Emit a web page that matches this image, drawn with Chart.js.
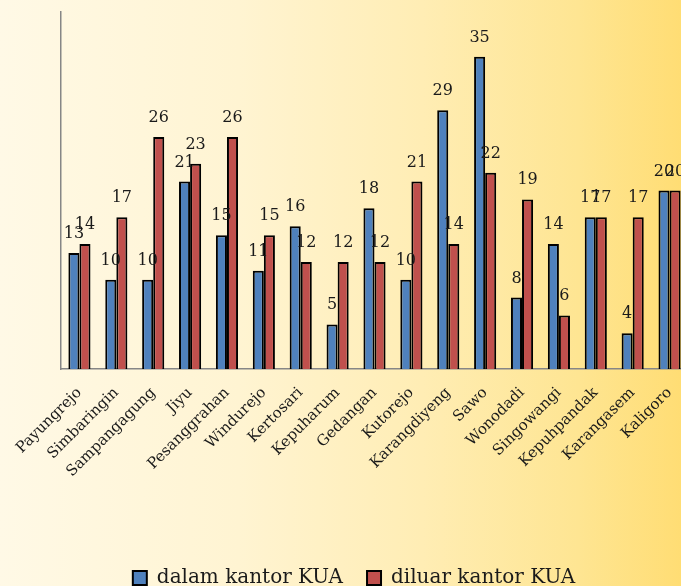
<!DOCTYPE html>
<html>
<head>
<meta charset="utf-8">
<script src="https://cdn.jsdelivr.net/npm/chart.js@4.4.1/dist/chart.umd.min.js"></script>
<style>
  html, body { margin: 0; padding: 0; overflow: hidden; }
  body {
    width: 681px; height: 586px;
    background: linear-gradient(to right, #fff9e6 0%, #fff4d2 35%, #ffedb4 62%, #fee592 85%, #ffdd74 100%);
  }
  #wrap { position: absolute; left: 0; top: 0; width: 690px; height: 586px; }
</style>
</head>
<body>
<div id="wrap"><canvas id="kuaChart" width="690" height="586"></canvas></div>
<script>
// data kecamatan / desa
var desa = ['Payungrejo', 'Simbaringin', 'Sampangagung', 'Jiyu', 'Pesanggrahan', 'Windurejo', 'Kertosari', 'Kepuharum', 'Gedangan', 'Kutorejo', 'Karangdiyeng', 'Sawo', 'Wonodadi', 'Singowangi', 'Kepuhpandak', 'Karangasem', 'Kaligoro'];
var dalamKUA = [13, 10, 10, 21, 15, 11, 16, 5, 18, 10, 29, 35, 8, 14, 17, 4, 20];
var diluarKUA = [14, 17, 26, 23, 26, 15, 12, 12, 12, 21, 14, 22, 19, 6, 17, 17, 20];

var fontFam = "'DejaVu Serif', serif";

// angka di atas batang
var valueLabels = {
    id: 'valueLabels',
    afterDatasetsDraw: function (chart) {
        var ctx = chart.ctx;
        ctx.save();
        ctx.font = '16px ' + fontFam;
        ctx.fillStyle = '#1a1a1a';
        ctx.textAlign = 'center';
        ctx.textBaseline = 'alphabetic';
        chart.data.datasets.forEach(function (ds, i) {
            var meta = chart.getDatasetMeta(i);
            meta.data.forEach(function (bar, j) {
                ctx.fillText(ds.data[j], bar.x, bar.y - 15);
            });
        });
        ctx.restore();
    }
};

var ctx = document.getElementById('kuaChart');

var chart = new Chart(ctx, {
    type: 'bar',
    data: {
        labels: desa,
        datasets: [{
            label: 'dalam kantor KUA',
            backgroundColor: '#4f81bd',
            borderColor: '#000000',
            borderWidth: 2,
            data: dalamKUA
        }, {
            label: 'diluar kantor KUA',
            backgroundColor: '#c0504d',
            borderColor: '#000000',
            borderWidth: 2,
            data: diluarKUA
        }]
    },
    options: {
        responsive: false,
        animation: false,
        layout: { padding: { left: 20, right: 2, top: 12, bottom: -12 } },
        datasets: { bar: { categoryPercentage: 0.6, barPercentage: 1.0 } },
        scales: {
            x: {
                grid: { display: false },
                border: { color: '#868686', width: 1.5 },
                ticks: {
                    maxRotation: 45, minRotation: 45,
                    autoSkip: false,
                    padding: 7,
                    color: '#1a1a1a',
                    font: { family: fontFam, size: 15 }
                },
                afterFit: function (s) { s.height = 175; }
            },
            y: {
                min: 0, max: 40,
                grid: { display: false },
                border: { color: '#868686', width: 1.5 },
                ticks: { display: false },
                afterFit: function (s) { s.width = 41; }
            }
        },
        plugins: {
            legend: {
                position: 'bottom',
                labels: {
                    boxWidth: 14, boxHeight: 14,
                    padding: 24,
                    color: '#1a1a1a',
                    font: { family: fontFam, size: 20 }
                }
            },
            tooltip: { enabled: false }
        }
    },
    plugins: [valueLabels]
});
</script>
</body>
</html>
